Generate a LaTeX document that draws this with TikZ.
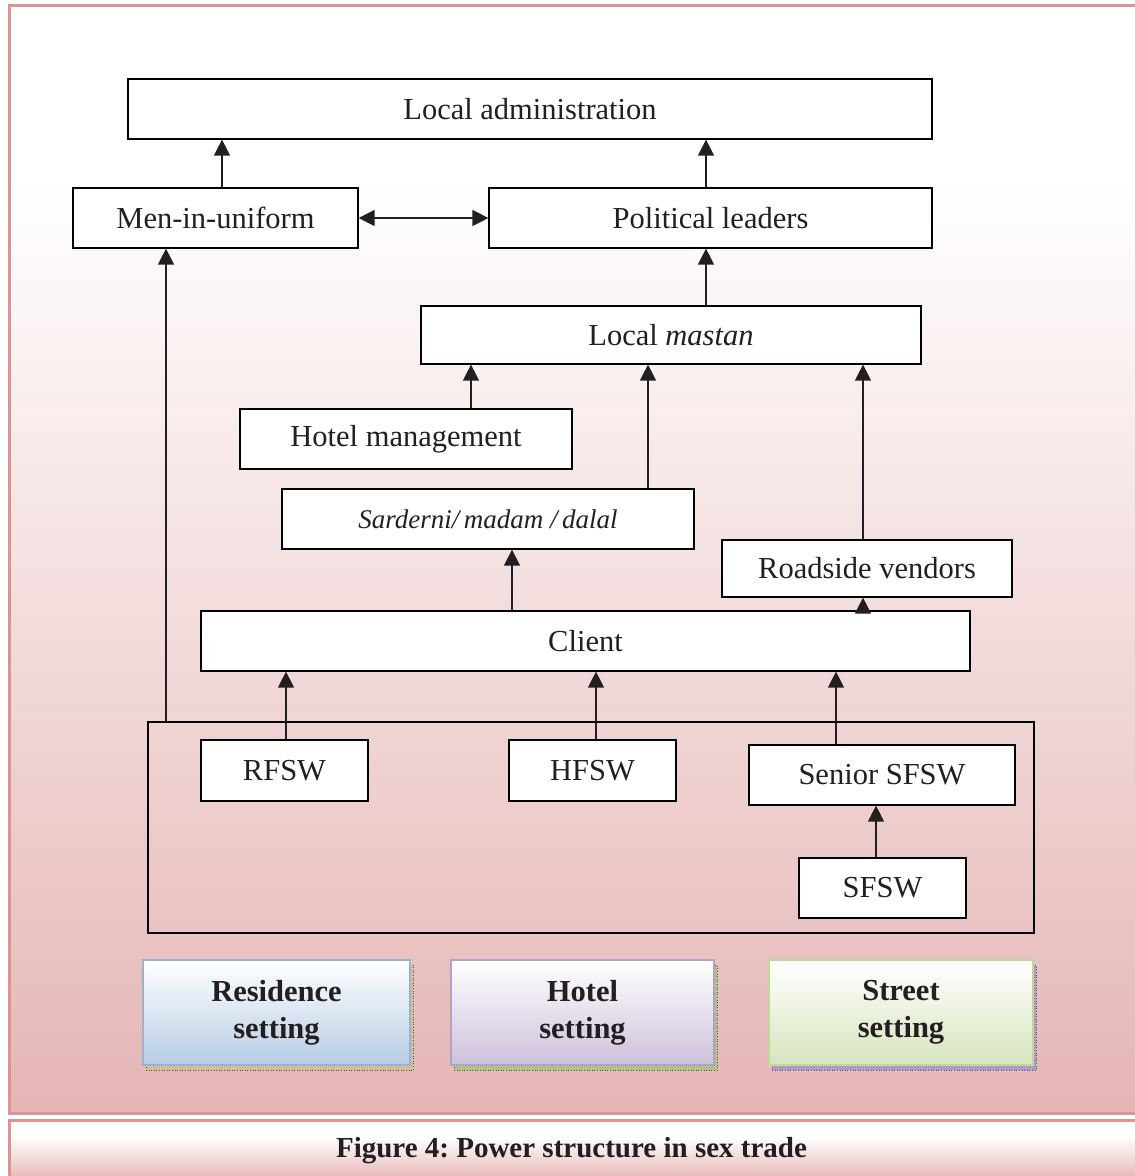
\documentclass[tikz,border=0pt]{standalone}
\usepackage{fontspec}
\setmainfont{Liberation Serif}
\usetikzlibrary{arrows.meta,shadows}
\frenchspacing
\definecolor{framec}{RGB}{217,149,148}
\definecolor{pinkbot}{RGB}{229,181,181}
\definecolor{pinkmid}{RGB}{243,216,216}
\definecolor{pinkcap}{RGB}{232,185,185}
\definecolor{textc}{RGB}{35,31,32}
\definecolor{resb}{RGB}{149,179,215}
\definecolor{resf}{RGB}{184,204,228}
\definecolor{hotb}{RGB}{178,162,199}
\definecolor{hotf}{RGB}{204,192,218}
\definecolor{strb}{RGB}{195,214,155}
\definecolor{strf}{RGB}{215,228,189}
\definecolor{resshadow}{RGB}{212,190,150}
\definecolor{hotshadow}{RGB}{170,196,130}
\definecolor{strshadow}{RGB}{170,155,200}
\begin{document}
\begin{tikzpicture}[x=1pt,y=-1pt,
  box/.style={draw=black, line width=1.2pt, fill=white, inner sep=0pt, text=textc,
    font=\fontsize{30.5}{37}\selectfont},
  arr/.style={line width=1.3pt, draw=textc, -{Triangle[length=16pt,width=16pt]}},
  arrtwo/.style={line width=1.3pt, draw=textc, {Triangle[length=16pt,width=16pt]}-{Triangle[length=16pt,width=16pt]}},
  setbox/.style={line width=2pt, inner sep=0pt, text=textc, align=center,
    font=\bfseries\fontsize{30.5}{37}\selectfont, minimum height=105pt}]
\useasboundingbox (0,0) rectangle (1135,1176);
% background of main frame
\fill[white] (10,6) rectangle (1145,1114);
\shade[top color=white, middle color=pinkmid, bottom color=pinkbot] (10,180) rectangle (1145,1114);
\draw[framec, line width=3pt] (9.5,5.5) rectangle (1150,1113.5);
% caption frame
\fill[white] (10,1120) rectangle (1150,1200);
\shade[top color=white, bottom color=pinkcap] (10,1136) rectangle (1150,1177);
\draw[framec, line width=3pt] (9.5,1120) rectangle (1150,1200);
\node[text=textc, font=\bfseries\fontsize{29}{35}\selectfont, anchor=base] (cap) at (571.5,1157) {Figure 4: Power structure in sex trade};

% nodes
\node[box, minimum width=804pt, minimum height=60pt] (la) at (530,109) {Local administration};
\node[box, minimum width=285pt, minimum height=60pt] (miu) at (215.5,218) {Men-in-uniform};
\node[box, minimum width=443pt, minimum height=60pt] (pl) at (710.5,218) {Political leaders};
\node[box, minimum width=500pt, minimum height=58pt] (lm) at (671,335) {Local \textit{mastan}};
\node[box, minimum width=332pt, minimum height=60pt] (hm) at (406,439) {Hotel management};
\node[box, minimum width=412pt, minimum height=60pt, font=\itshape\fontsize{27}{33}\selectfont] (sa) at (488,519) {Sarderni/\,madam /\,dalal};
\node[box, minimum width=290pt, minimum height=57pt] (rv) at (867,568.5) {Roadside vendors};
\node[box, minimum width=769pt, minimum height=60pt] (cl) at (585.5,641) {Client};
\node[draw=black, line width=1.2pt, minimum width=886pt, minimum height=211pt, inner sep=0pt] (cont) at (591,827.5) {};
\node[box, minimum width=167pt, minimum height=61pt] (rf) at (284.5,770.5) {RFSW};
\node[box, minimum width=167pt, minimum height=61pt] (hf) at (592.5,770.5) {HFSW};
\node[box, minimum width=266pt, minimum height=60pt] (ss) at (882,775) {Senior SFSW};
\node[box, minimum width=167pt, minimum height=60pt] (sf) at (882.5,888) {SFSW};

% setting boxes
\node[setbox, draw=resb, top color=white, bottom color=resf, minimum width=267pt,
  general shadow={fill=resshadow, draw=black!70, dotted, line width=0.6pt, shadow xshift=3pt, shadow yshift=-5pt}] (res) at (276.5,1012.5) {Residence\\setting};
\node[setbox, draw=hotb, top color=white, bottom color=hotf, minimum width=263pt,
  general shadow={fill=hotshadow, draw=black!70, dotted, line width=0.6pt, shadow xshift=3pt, shadow yshift=-5pt}] (hot) at (582.5,1012.5) {Hotel\\setting};
\node[setbox, draw=strb, top color=white, bottom color=strf, minimum width=264pt,
  general shadow={fill=strshadow, draw=black!70, dotted, line width=0.6pt, shadow xshift=3pt, shadow yshift=-5pt}] (str) at (901,1012.5) {Street\\setting};

% column coordinates
\coordinate (xa) at (222,0);
\coordinate (xb) at (706,0);
\coordinate (xc) at (471,0);
\coordinate (xd) at (648,0);
\coordinate (xe) at (863,0);
\coordinate (xf) at (512,0);
\coordinate (xg) at (286,0);
\coordinate (xh) at (596,0);
\coordinate (xi) at (836,0);
\coordinate (xj) at (876,0);
\coordinate (xk) at (166,0);

% connectors
\draw[arr] (miu.north -| xa) -- (la.south -| xa);
\draw[arr] (pl.north -| xb) -- (la.south -| xb);
\draw[arrtwo] (miu.east) -- (pl.west);
\draw[arr] (lm.north -| xb) -- (pl.south -| xb);
\draw[arr] (hm.north -| xc) -- (lm.south -| xc);
\draw[arr] (sa.north -| xd) -- (lm.south -| xd);
\draw[arr] (rv.north -| xe) -- (lm.south -| xe);
\draw[arr] (cl.north -| xf) -- (sa.south -| xf);
\draw[arr] (cl.north -| xe) -- (rv.south -| xe);
\draw[arr] (rf.north -| xg) -- (cl.south -| xg);
\draw[arr] (hf.north -| xh) -- (cl.south -| xh);
\draw[arr] (ss.north -| xi) -- (cl.south -| xi);
\draw[arr] (sf.north -| xj) -- (ss.south -| xj);
\draw[arr] (cont.north -| xk) -- (miu.south -| xk);
\end{tikzpicture}
\end{document}
